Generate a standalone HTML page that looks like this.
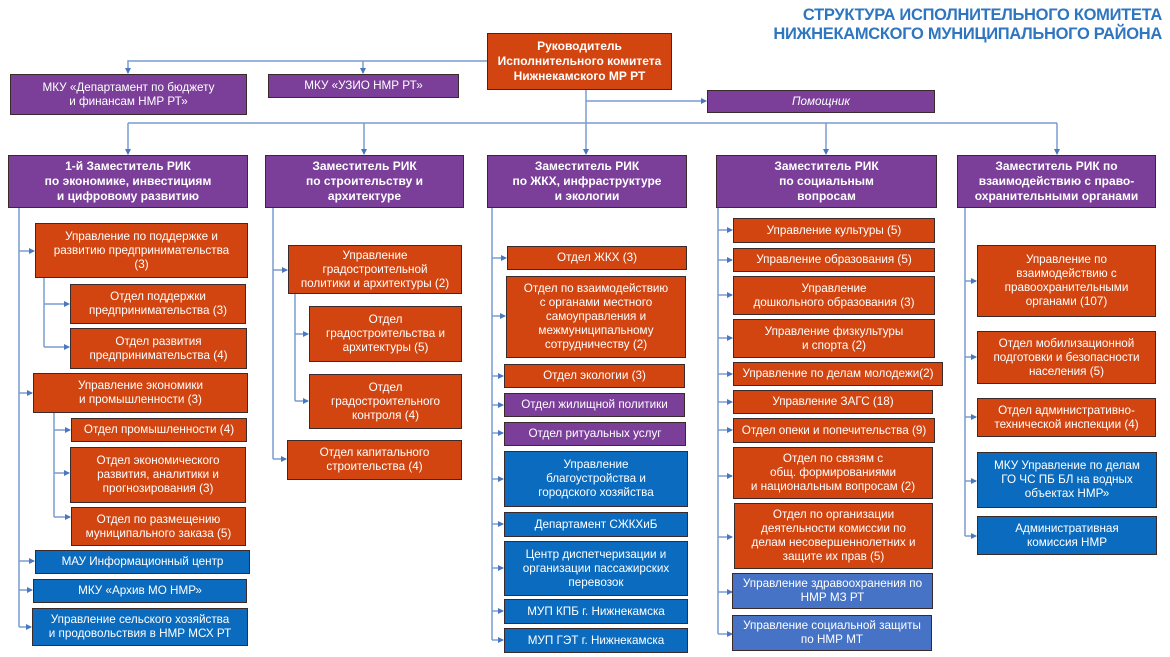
<!DOCTYPE html>
<html><head><meta charset="utf-8"><style>
body{margin:0;width:1170px;height:657px;background:#fff;position:relative;overflow:hidden;font-family:"Liberation Sans","DejaVu Sans",sans-serif}
.b{position:absolute;box-sizing:border-box;border:1px solid #3a2a2a;color:#fff;font-size:11.7px;line-height:14px;display:flex;align-items:center;justify-content:center;text-align:center;padding:0 2px}
.o{background:#d24510}.p{background:#7b3f9a}.u{background:#0b6cbf}.l{background:#4673c6}
.h{font-weight:bold;font-size:12px;line-height:15px}
svg{position:absolute;left:0;top:0}
.t{position:absolute;right:8px;top:6px;color:#2f76c0;font-weight:bold;font-size:16.5px;line-height:19px;text-align:right;letter-spacing:-0.3px}
</style></head><body>
<svg width="1170" height="657">
<defs><marker id="a" markerWidth="6" markerHeight="6" refX="5" refY="3" orient="auto" markerUnits="userSpaceOnUse"><path d="M0,0L6,3L0,6z" fill="#4a78c0"/></marker></defs>
<g stroke="#7a9cd0" stroke-width="1.5" fill="none">
<path d="M487 61H128V73" marker-end="url(#a)"/><path d="M363 61V73" marker-end="url(#a)"/>
<path d="M586 90V123"/><path d="M586 101H706" marker-end="url(#a)"/>
<path d="M128 123H1057"/>
<path d="M128 123V154" marker-end="url(#a)"/><path d="M364 123V154" marker-end="url(#a)"/><path d="M586 123V154" marker-end="url(#a)"/><path d="M826 123V154" marker-end="url(#a)"/><path d="M1057 123V154" marker-end="url(#a)"/>
<path d="M19 208V627"/>
<path d="M19 251H34" marker-end="url(#a)"/><path d="M19 393H32" marker-end="url(#a)"/><path d="M19 561H34" marker-end="url(#a)"/><path d="M19 590H32" marker-end="url(#a)"/><path d="M19 627H31" marker-end="url(#a)"/>
<path d="M44 278V347"/><path d="M44 304H69" marker-end="url(#a)"/><path d="M44 347H69" marker-end="url(#a)"/>
<path d="M54 413V517"/><path d="M54 430H70" marker-end="url(#a)"/><path d="M54 473H69" marker-end="url(#a)"/><path d="M54 517H70" marker-end="url(#a)"/>
<path d="M273 208V459"/><path d="M273 270H287" marker-end="url(#a)"/><path d="M273 459H286" marker-end="url(#a)"/>
<path d="M295 293V401"/><path d="M295 334H308" marker-end="url(#a)"/><path d="M295 401H308" marker-end="url(#a)"/>
<path d="M492 208V640"/>
<path d="M492 258H506" marker-end="url(#a)"/><path d="M492 316H505" marker-end="url(#a)"/><path d="M492 376H503" marker-end="url(#a)"/><path d="M492 405H503" marker-end="url(#a)"/><path d="M492 433H503" marker-end="url(#a)"/><path d="M492 479H503" marker-end="url(#a)"/><path d="M492 524H503" marker-end="url(#a)"/><path d="M492 568H503" marker-end="url(#a)"/><path d="M492 611H503" marker-end="url(#a)"/><path d="M492 640H503" marker-end="url(#a)"/>
<path d="M718 208V634"/>
<path d="M718 230H732" marker-end="url(#a)"/><path d="M718 260H732" marker-end="url(#a)"/><path d="M718 295H732" marker-end="url(#a)"/><path d="M718 338H732" marker-end="url(#a)"/><path d="M718 374H732" marker-end="url(#a)"/><path d="M718 402H732" marker-end="url(#a)"/><path d="M718 430H732" marker-end="url(#a)"/><path d="M718 476H732" marker-end="url(#a)"/><path d="M718 537H732" marker-end="url(#a)"/><path d="M718 592H732" marker-end="url(#a)"/><path d="M718 634H732" marker-end="url(#a)"/>
<path d="M965 208V536"/>
<path d="M965 281H976" marker-end="url(#a)"/><path d="M965 357H976" marker-end="url(#a)"/><path d="M965 417H976" marker-end="url(#a)"/><path d="M965 481H976" marker-end="url(#a)"/><path d="M965 536H976" marker-end="url(#a)"/>
</g></svg>
<div class="t">СТРУКТУРА ИСПОЛНИТЕЛЬНОГО КОМИТЕТА<br>НИЖНЕКАМСКОГО МУНИЦИПАЛЬНОГО РАЙОНА</div>
<div class="b o h" style="left:487px;top:33px;width:185px;height:57px">Руководитель<br>Исполнительного комитета<br>Нижнекамского МР РТ</div>
<div class="b p" style="left:10px;top:74px;width:237px;height:41px">МКУ «Департамент по бюджету<br>и финансам НМР РТ»</div>
<div class="b p" style="left:268px;top:74px;width:191px;height:24px">МКУ «УЗИО НМР РТ»</div>
<div class="b p" style="left:707px;top:90px;width:228px;height:23px;font-style:italic">Помощник</div>
<div class="b p h" style="left:8px;top:155px;width:240px;height:53px">1-й Заместитель РИК<br>по экономике, инвестициям<br>и цифровому развитию</div>
<div class="b p h" style="left:265px;top:155px;width:199px;height:53px">Заместитель РИК<br>по строительству и<br>архитектуре</div>
<div class="b p h" style="left:487px;top:155px;width:200px;height:53px">Заместитель РИК<br>по ЖКХ, инфраструктуре<br>и экологии</div>
<div class="b p h" style="left:716px;top:155px;width:221px;height:53px">Заместитель РИК<br>по социальным<br>вопросам</div>
<div class="b p h" style="left:957px;top:155px;width:199px;height:53px">Заместитель РИК по<br>взаимодействию с право-<br>охранительными органами</div>

<div class="b o" style="left:35px;top:223px;width:213px;height:55px">Управление по поддержке и<br>развитию предпринимательства<br>(3)</div>
<div class="b o" style="left:70px;top:284px;width:176px;height:40px">Отдел поддержки<br>предпринимательства (3)</div>
<div class="b o" style="left:70px;top:328px;width:177px;height:41px">Отдел развития<br>предпринимательства (4)</div>
<div class="b o" style="left:33px;top:373px;width:215px;height:40px">Управление экономики<br>и промышленности (3)</div>
<div class="b o" style="left:71px;top:418px;width:176px;height:24px">Отдел промышленности (4)</div>
<div class="b o" style="left:70px;top:447px;width:176px;height:56px">Отдел экономического<br>развития, аналитики и<br>прогнозирования (3)</div>
<div class="b o" style="left:71px;top:507px;width:175px;height:39px">Отдел по размещению<br>муниципального заказа (5)</div>
<div class="b u" style="left:35px;top:550px;width:215px;height:24px">МАУ Информационный центр</div>
<div class="b u" style="left:33px;top:579px;width:214px;height:24px">МКУ «Архив МО НМР»</div>
<div class="b u" style="left:32px;top:608px;width:216px;height:38px">Управление сельского хозяйства<br>и продовольствия в НМР МСХ РТ</div>

<div class="b o" style="left:288px;top:245px;width:174px;height:49px">Управление<br>градостроительной<br>политики и архитектуры (2)</div>
<div class="b o" style="left:309px;top:306px;width:153px;height:56px">Отдел<br>градостроительства и<br>архитектуры (5)</div>
<div class="b o" style="left:309px;top:374px;width:153px;height:55px">Отдел<br>градостроительного<br>контроля (4)</div>
<div class="b o" style="left:287px;top:440px;width:175px;height:40px">Отдел капитального<br>строительства (4)</div>

<div class="b o" style="left:507px;top:246px;width:180px;height:24px">Отдел ЖКХ (3)</div>
<div class="b o" style="left:506px;top:276px;width:180px;height:82px">Отдел по взаимодействию<br>с органами местного<br>самоуправления и<br>межмуниципальному<br>сотрудничеству (2)</div>
<div class="b o" style="left:504px;top:364px;width:181px;height:24px">Отдел экологии (3)</div>
<div class="b p" style="left:504px;top:393px;width:181px;height:24px">Отдел жилищной политики</div>
<div class="b p" style="left:504px;top:422px;width:182px;height:24px">Отдел ритуальных услуг</div>
<div class="b u" style="left:504px;top:451px;width:184px;height:56px">Управление<br>благоустройства и<br>городского хозяйства</div>
<div class="b u" style="left:504px;top:512px;width:184px;height:25px">Департамент СЖКХиБ</div>
<div class="b u" style="left:504px;top:541px;width:184px;height:55px">Центр диспетчеризации и<br>организации пассажирских<br>перевозок</div>
<div class="b u" style="left:504px;top:599px;width:184px;height:25px">МУП КПБ г. Нижнекамска</div>
<div class="b u" style="left:504px;top:628px;width:184px;height:25px">МУП ГЭТ г. Нижнекамска</div>

<div class="b o" style="left:733px;top:218px;width:202px;height:25px">Управление культуры (5)</div>
<div class="b o" style="left:733px;top:248px;width:202px;height:24px">Управление образования (5)</div>
<div class="b o" style="left:733px;top:276px;width:202px;height:39px">Управление<br>дошкольного образования (3)</div>
<div class="b o" style="left:733px;top:319px;width:202px;height:39px">Управление физкультуры<br>и спорта (2)</div>
<div class="b o" style="left:733px;top:362px;width:210px;height:24px">Управление по делам молодежи(2)</div>
<div class="b o" style="left:733px;top:390px;width:200px;height:24px">Управление ЗАГС (18)</div>
<div class="b o" style="left:733px;top:418px;width:202px;height:25px">Отдел опеки и попечительства (9)</div>
<div class="b o" style="left:733px;top:447px;width:200px;height:52px">Отдел по связям с<br>общ. формированиями<br>и национальным вопросам (2)</div>
<div class="b o" style="left:734px;top:503px;width:199px;height:66px">Отдел по организации<br>деятельности комиссии по<br>делам несовершеннолетних и<br>защите их прав (5)</div>
<div class="b l" style="left:732px;top:573px;width:201px;height:36px">Управление здравоохранения по<br>НМР МЗ РТ</div>
<div class="b l" style="left:732px;top:615px;width:200px;height:36px">Управление социальной защиты<br>по НМР МТ</div>

<div class="b o" style="left:977px;top:245px;width:179px;height:72px">Управление по<br>взаимодействию с<br>правоохранительными<br>органами (107)</div>
<div class="b o" style="left:977px;top:331px;width:179px;height:53px">Отдел мобилизационной<br>подготовки и безопасности<br>населения (5)</div>
<div class="b o" style="left:977px;top:398px;width:179px;height:39px">Отдел административно-<br>технической инспекции (4)</div>
<div class="b u" style="left:977px;top:452px;width:180px;height:56px">МКУ Управление по делам<br>ГО ЧС ПБ БЛ на водных<br>объектах НМР»</div>
<div class="b u" style="left:977px;top:516px;width:180px;height:39px">Административная<br>комиссия НМР</div>
</body></html>
